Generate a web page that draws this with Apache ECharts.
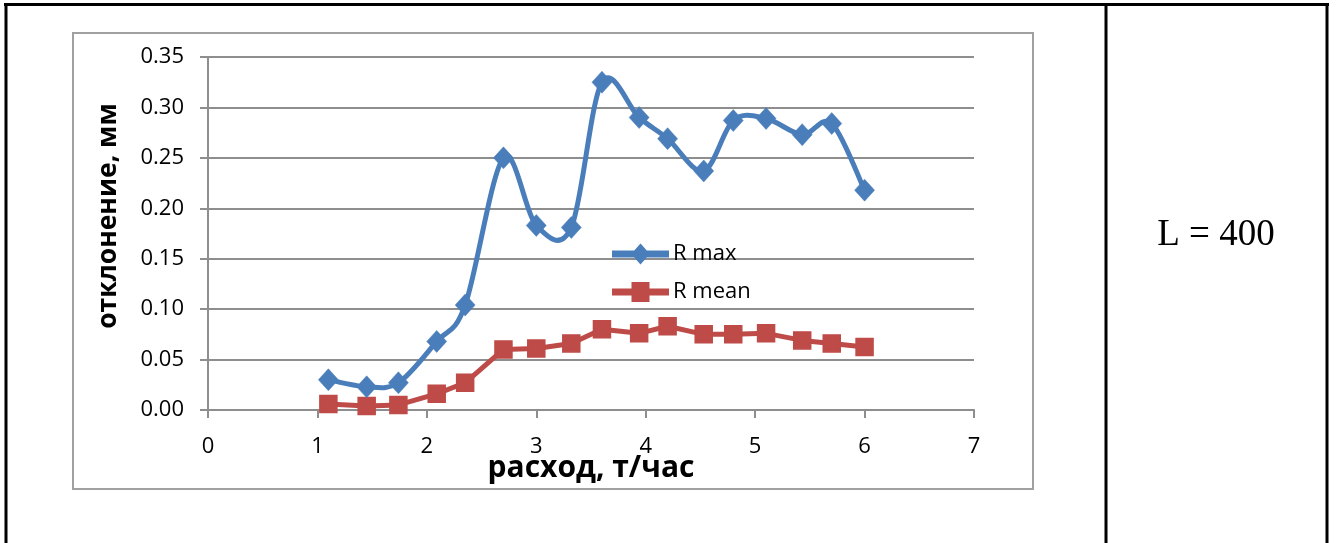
<!DOCTYPE html>
<html>
<head>
<meta charset="utf-8">
<title>отклонение — расход</title>
<script src="https://cdn.jsdelivr.net/npm/echarts@6/dist/echarts.min.js"></script>
<style>
  html, body { margin: 0; padding: 0; background: #ffffff; }
  #chart { width: 1336px; height: 543px; }
</style>
</head>
<body>
<div id="chart"></div>
<script>
// Flow rate, t/h (shared by both series)
const flowRate = [1.10, 1.45, 1.74, 2.09, 2.35, 2.70, 3.00, 3.32, 3.60, 3.94, 4.20, 4.53, 4.80, 5.10, 5.43, 5.70, 6.00];
// Maximum deviation, mm
const rMax  = [0.030, 0.023, 0.027, 0.068, 0.104, 0.250, 0.183, 0.181, 0.325, 0.290, 0.269, 0.237, 0.287, 0.289, 0.273, 0.284, 0.218];
// Mean deviation, mm
const rMean = [0.006, 0.004, 0.005, 0.016, 0.027, 0.060, 0.061, 0.066, 0.080, 0.076, 0.083, 0.075, 0.075, 0.076, 0.069, 0.066, 0.0625];

const seriesNames = ['R max', 'R mean'];
const xTitle = 'расход, т/час';
const yTitle = 'отклонение, мм';
const sideNote = 'L = 400';

const xRange = { min: 0, max: 7, step: 1 };
const yRange = { min: 0, max: 0.35, step: 0.05 };

const pairs = ys => flowRate.map((x, i) => [x, ys[i]]);

const BLUE = '#4a7ebb';
const RED = '#be4b48';
const GRID_GRAY = '#8e8e8e';
const FONT = '"Open Sans", "Noto Sans", sans-serif';
const LINE_W = 5;

// Smoothed curve through the points (cubic Bezier, control points at 1/6 of
// the neighbour chord), positioned through the grid's own coordinate system.
function smoothCurve(params, api) {
  const pts = flowRate.map((x, i) => api.coord([x, rMax[i]]));
  const n = pts.length;
  let d = 'M' + pts[0][0] + ',' + pts[0][1];
  for (let i = 0; i < n - 1; i++) {
    const p0 = pts[Math.max(i - 1, 0)];
    const p1 = pts[i];
    const p2 = pts[i + 1];
    const p3 = pts[Math.min(i + 2, n - 1)];
    const c1x = p1[0] + (p2[0] - p0[0]) / 6;
    const c1y = p1[1] + (p2[1] - p0[1]) / 6;
    const c2x = p2[0] - (p3[0] - p1[0]) / 6;
    const c2y = p2[1] - (p3[1] - p1[1]) / 6;
    d += ' C' + c1x + ',' + c1y + ' ' + c2x + ',' + c2y + ' ' + p2[0] + ',' + p2[1];
  }
  return {
    type: 'path',
    shape: { pathData: d },
    style: { fill: 'none', stroke: BLUE, lineWidth: LINE_W, lineJoin: 'round', lineCap: 'round' }
  };
}

// legend icons: thick line with the series marker in the middle (55 x 18 box)
const ICON_MAX = 'path://M0,6.5L55,6.5L55,11.5L0,11.5Z M27.5,0L35.5,9L27.5,18L19.5,9Z';
const ICON_MEAN = 'path://M0,6.5L55,6.5L55,11.5L0,11.5Z M19.5,0L35.5,0L35.5,18L19.5,18Z';

const chart = echarts.init(document.getElementById('chart'), null, { renderer: 'canvas' });

chart.setOption({
  animation: false,
  backgroundColor: '#ffffff',
  grid: { left: 208, right: 362, top: 57, bottom: 133, containLabel: false },
  xAxis: {
    type: 'value',
    min: xRange.min, max: xRange.max, interval: xRange.step,
    name: xTitle,
    nameLocation: 'middle',
    nameGap: 43,
    nameMoveOverlap: false,
    nameTextStyle: { fontFamily: FONT, fontWeight: 'bold', fontSize: 30, color: '#000' },
    axisLine: { show: true, lineStyle: { color: GRID_GRAY, width: 2 } },
    axisTick: { show: true, inside: false, length: 8, lineStyle: { color: GRID_GRAY, width: 2 } },
    axisLabel: { fontFamily: FONT, fontSize: 22, color: '#000', margin: 26 },
    splitLine: { show: false }
  },
  yAxis: {
    type: 'value',
    min: yRange.min, max: yRange.max, interval: yRange.step,
    axisLine: { show: true, lineStyle: { color: GRID_GRAY, width: 2 } },
    axisTick: { show: true, inside: false, length: 8, lineStyle: { color: GRID_GRAY, width: 2 } },
    axisLabel: {
      fontFamily: FONT, fontSize: 22, color: '#000', margin: 24,
      formatter: v => v.toFixed(2)
    },
    splitLine: { show: true, lineStyle: { color: GRID_GRAY, width: 2 } }
  },
  legend: {
    orient: 'vertical',
    left: 612,
    top: 243,
    padding: 0,
    itemWidth: 55,
    itemHeight: 18,
    itemGap: 16,
    textStyle: { fontFamily: FONT, fontSize: 22, color: '#000' },
    data: [
      { name: seriesNames[0], icon: ICON_MAX },
      { name: seriesNames[1], icon: ICON_MEAN }
    ]
  },
  series: [
    {
      name: 'R max curve',
      type: 'custom',
      coordinateSystem: 'cartesian2d',
      data: [[flowRate[0], rMax[0]]],
      renderItem: smoothCurve,
      silent: true,
      z: 2
    },
    {
      name: seriesNames[0],
      type: 'line',
      data: pairs(rMax),
      symbol: 'diamond',
      symbolSize: [20, 22],
      lineStyle: { color: BLUE, width: 0, opacity: 0 },
      itemStyle: { color: BLUE, borderColor: BLUE, borderWidth: 0.5 },
      z: 4
    },
    {
      name: seriesNames[1],
      type: 'line',
      data: pairs(rMean),
      smooth: false,
      symbol: 'rect',
      symbolSize: 17,
      lineStyle: { color: RED, width: LINE_W },
      itemStyle: { color: RED, borderColor: RED, borderWidth: 1.5 },
      z: 3
    }
  ],
  graphic: [
    // chart area frame
    {
      type: 'rect', z: -10, silent: true,
      shape: { x: 73, y: 33, width: 960, height: 456 },
      style: { fill: null, stroke: '#a0a0a0', lineWidth: 2 }
    },
    // table frame: top, left, right, divider
    { type: 'line', silent: true, shape: { x1: 4, y1: 4.5, x2: 1329, y2: 4.5 }, style: { stroke: '#000', lineWidth: 3 } },
    { type: 'line', silent: true, shape: { x1: 6, y1: 3, x2: 6, y2: 543 }, style: { stroke: '#000', lineWidth: 3 } },
    { type: 'line', silent: true, shape: { x1: 1327, y1: 3, x2: 1327, y2: 543 }, style: { stroke: '#000', lineWidth: 3 } },
    { type: 'line', silent: true, shape: { x1: 1106, y1: 3, x2: 1106, y2: 543 }, style: { stroke: '#000', lineWidth: 3 } },
    // vertical axis title
    {
      type: 'text', silent: true,
      x: 108, y: 216, rotation: Math.PI / 2,
      style: {
        text: yTitle, fontFamily: FONT, fontWeight: 'bold', fontSize: 26.5, fill: '#000',
        align: 'center', verticalAlign: 'middle'
      }
    },
    // note in the side cell
    {
      type: 'text', silent: true,
      x: 1216, y: 235,
      style: {
        text: sideNote, fontFamily: '"Liberation Serif", "DejaVu Serif", serif', fontSize: 37, fill: '#000',
        align: 'center', verticalAlign: 'middle'
      }
    }
  ]
});
</script>
</body>
</html>
